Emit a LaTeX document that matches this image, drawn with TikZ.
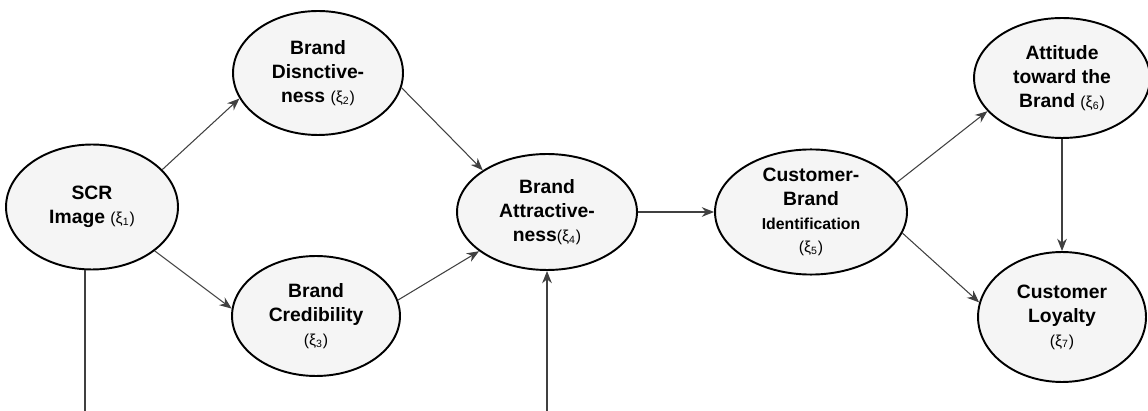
\documentclass[tikz,border=0pt]{standalone}
\usepackage{fontspec}
\setmainfont{Liberation Sans}
\usetikzlibrary{shapes.geometric, arrows.meta}
\newcommand{\xiof}[1]{{\mdseries\small(ξ\textsubscript{#1})}}
\begin{document}
\begin{tikzpicture}[>={Stealth[length=7pt, width=5.5pt]}, x=0.02cm, y=-0.02cm,
    construct/.style={draw, ellipse, line width=1.1pt, fill=black!4, inner sep=0pt,
      align=center, font=\bfseries\fontsize{11}{13.6}\selectfont},
    link/.style={->, draw=black!75, line width=0.6pt}]
  \useasboundingbox (0,0) rectangle (1148,411);
  \node[construct, minimum width=3.44cm, minimum height=2.5cm] (scr) at (92, 207) {SCR\\Image \xiof{1}};
  \node[construct, minimum width=3.4cm, minimum height=2.48cm] (dist) at (318, 73) {Brand\\Disnctive-\\ness \xiof{2}};
  \node[construct, minimum width=3.36cm, minimum height=2.4cm] (cred) at (316, 316) {Brand\\Credibility\\\xiof{3}};
  \node[construct, minimum width=3.6cm, minimum height=2.32cm] (attr) at (547, 212) {Brand\\Attractive-\\ness\xiof{4}};
  \node[construct, minimum width=3.84cm, minimum height=2.48cm] (cbi) at (811, 212) {Customer-\\Brand\\{\small Identification}\\\xiof{5}};
  \node[construct, minimum width=3.52cm, minimum height=2.4cm] (att) at (1062, 78) {Attitude\\toward the\\Brand \xiof{6}};
  \node[construct, minimum width=3.36cm, minimum height=2.6cm] (loy) at (1062, 317) {Customer\\Loyalty\\\xiof{7}};
  \coordinate (scrfoot) at (85, 411);
  \coordinate (attrfoot) at (547, 411);
  \draw[link] (scr.28) -- (dist.198);
  \draw[link] (scr.-35) -- (cred.175);
  \draw[link] (dist.-10) -- (attr.147);
  \draw[link] (cred.11) -- (attr.210);
  \draw[link] (attr) -- (cbi);
  \draw[link] (cbi.19) -- (att.204);
  \draw[link] (cbi.-13) -- (loy.170);
  \draw[link] (att) -- (loy);
  \draw[link, -] (scr.south -| scrfoot) -- (scrfoot);
  \draw[link] (attrfoot) -- (attr);
\end{tikzpicture}
\end{document}
